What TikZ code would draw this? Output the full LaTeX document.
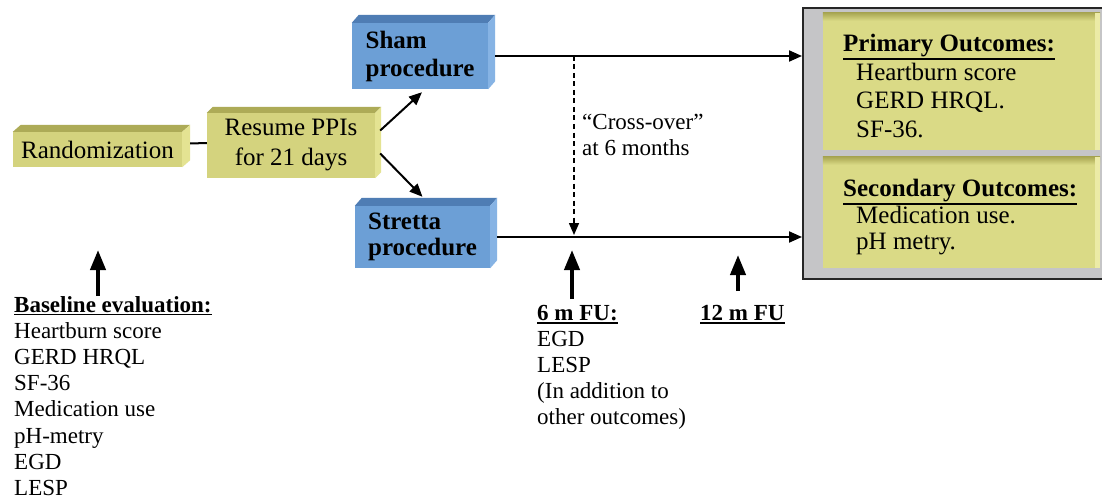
\documentclass[tikz,border=0pt]{standalone}
\usepackage{fontspec}
\setmainfont{Liberation Serif}
\usetikzlibrary{arrows.meta}

% slab colours
\definecolor{yfront}{HTML}{D4D37E}
\definecolor{ytop}{HTML}{ADAB57}
\definecolor{yside}{HTML}{E4E392}
\definecolor{bfront}{HTML}{6C9FD6}
\definecolor{btop}{HTML}{4F7DB4}
\definecolor{bside}{HTML}{86B3E4}
% outcome panel colours
\definecolor{panelgray}{HTML}{C5C5C7}
\definecolor{oyellow}{HTML}{DADA86}
\definecolor{obevel}{HTML}{A9A753}
\definecolor{olight}{HTML}{ECEBA6}

\newcommand\boxfont{\fontsize{25}{30}\selectfont}
\newcommand\listfont{\fontsize{23}{26.2}\selectfont}

% bold heading with a rule below its descenders
\newsavebox\ulbx
\newcommand\ulhead[1]{\sbox\ulbx{\bfseries #1}\usebox\ulbx\llap{\rule[\dimexpr-\dp\ulbx-3pt\relax]{\wd\ulbx}{1.5pt}}}

% top and right faces of a slab node; #4 is the depth offset
\newcommand\slabfaces[4]{%
  \fill[#2] (#1.north west) -- ++(#4) -- ([shift={(#4)}]#1.north east) -- (#1.north east) -- cycle;
  \fill[#3] (#1.north east) -- ([shift={(#4)}]#1.north east) -- ([shift={(#4)}]#1.south east) -- (#1.south east) -- cycle;}

\begin{document}
\begin{tikzpicture}[x=1pt,y=-1pt,
  yslab/.style={fill=yfront, inner sep=0pt, align=center, font=\boxfont},
  bslab/.style={fill=bfront, inner sep=0pt, align=left, font=\boxfont\bfseries},
  link/.style={line width=2pt},
  arr/.style={line width=2pt, -{Triangle[width=11pt,length=13pt]}},
  crossarr/.style={line width=1.6pt, dash pattern=on 5pt off 3.5pt, -{Triangle[width=10pt,length=12pt]}},
  bigarr/.style={line width=4pt, -{Triangle[width=15pt,length=20pt]}},
  listtext/.style={anchor=north west, inner sep=0pt, align=left, font=\listfont},
  outtext/.style={anchor=north west, inner sep=0pt, align=left, font=\boxfont},
  outbox/.style={fill=oyellow, inner sep=0pt, minimum width=277pt}]

\fill[white] (0,0) rectangle (1102,500);
\useasboundingbox (0,0) rectangle (1102,500);

% slabs
\node[yslab, minimum width=169pt, minimum height=35pt] (rand) at (97.5,149.5) {Randomization};
\slabfaces{rand}{ytop}{yside}{8,-7}

\node[yslab, minimum width=168pt, minimum height=65pt] (res) at (291,145.5) {Resume PPIs\\for 21 days};
\slabfaces{res}{ytop}{yside}{6,-6}

\node[bslab, minimum width=136pt, minimum height=66pt, font=\fontsize{25}{28}\selectfont\bfseries] (sham) at (420,56) {Sham\\procedure};
\slabfaces{sham}{btop}{bside}{7,-8}

\node[bslab, minimum width=135pt, minimum height=62pt, font=\fontsize{25}{26}\selectfont\bfseries] (stretta) at (422.5,237) {Stretta\\procedure};
\slabfaces{stretta}{btop}{bside}{7,-8}

% outcome panel
\node[draw=black!85, line width=2pt, fill=panelgray, minimum width=304pt, minimum height=271pt, inner sep=0pt] (panel) at (955,143.5) {};

\node[outbox, minimum height=137pt] (prim) at (961.5,81.5) {};
\shade[top color=obevel, bottom color=oyellow] (prim.north west) rectangle ([shift={(0,8)}]prim.north east);
\fill[olight] ([xshift=-5pt]prim.north east) rectangle (prim.south east);

\node[outbox, minimum height=111pt] (sec) at (961.5,212.5) {};
\shade[top color=obevel, bottom color=oyellow] (sec.north west) rectangle ([shift={(0,8)}]sec.north east);
\fill[olight] ([xshift=-5pt]sec.north east) rectangle (sec.south east);

\node[outtext, font=\fontsize{25}{28.5}\selectfont] (primtext) at (843,34)
  {\ulhead{Primary Outcomes:}\\\hspace*{13pt}Heartburn score\\\hspace*{13pt}GERD HRQL.\\\hspace*{13pt}SF-36.};
\node[outtext, font=\fontsize{25}{26.5}\selectfont] (sectext) at (843,179)
  {\ulhead{Secondary Outcomes:}\\\hspace*{13pt}Medication use.\\\hspace*{13pt}pH metry.};

% flow connectors
\draw[link] ([shift={(8,-6)}]rand.east) -- ([shift={(0,-2.5)}]res.west);
\draw[arr] ([shift={(5,-15)}]res.east) -- ([shift={(2,3)}]sham.south);
\draw[arr] ([shift={(5,8)}]res.east) -- ([shift={(0,-9)}]stretta.north);
\draw[arr] ([xshift=7pt]sham.east) -- (sham.east -| panel.west);
\draw[arr] ([xshift=7pt]stretta.east) -- (stretta.east -| panel.west);

% cross-over
\coordinate (xtop) at (574,56);
\coordinate (xbot) at (574,235);
\draw[crossarr] (xtop) -- (xbot);
\node[listtext] (cross) at (582,114) {“Cross-over”\\at 6 months};

% evaluation time points
\node[listtext] (base) at (14,296)
  {\ulhead{Baseline evaluation:}\\Heartburn score\\GERD HRQL\\SF-36\\Medication use\\pH-metry\\EGD\\LESP};
\node[listtext, font=\fontsize{23}{26}\selectfont] (fu6) at (537,305)
  {\ulhead{6 m FU:}\\EGD\\LESP\\(In addition to\\other outcomes)};
\node[listtext] (fu12) at (700,305) {\ulhead{12 m FU}};

\coordinate (t0) at (98,250);
\coordinate (t6) at (572,250);
\coordinate (t12) at (738,255);
\draw[bigarr] (t0 |- base.north) -- (t0);
\draw[bigarr] ([yshift=6pt]t6 |- fu6.north) -- (t6);
\draw[bigarr] ([yshift=14pt]t12 |- fu12.north) -- (t12);
\end{tikzpicture}
\end{document}
